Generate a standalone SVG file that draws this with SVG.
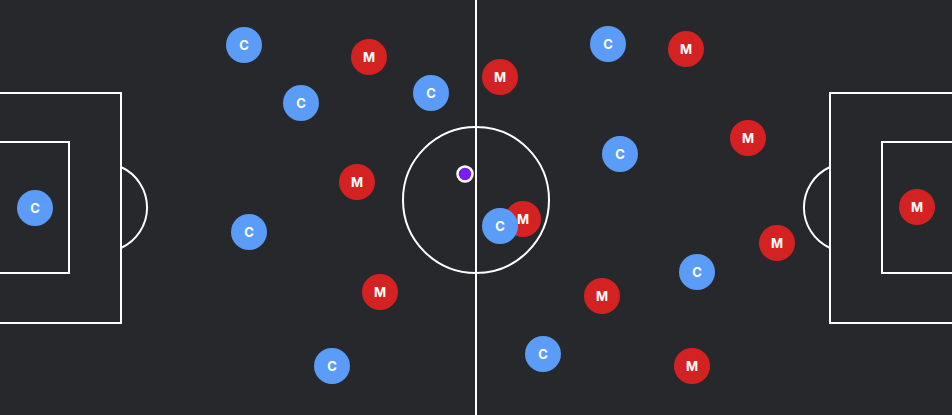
<svg xmlns="http://www.w3.org/2000/svg" width="952" height="415" viewBox="0 0 952 415">
<style>
.line{fill:none;stroke:#ffffff;stroke-width:2}
.c{fill:#5a9cf8}
.m{fill:#d42222}
.t{fill:#ffffff;font-family:"Inter","Open Sans",sans-serif;font-weight:700;font-size:13px;text-anchor:middle;dominant-baseline:central}
</style>
<rect x="0" y="0" width="952" height="415" fill="#27282c"/>
<g id="pitch">
<line class="line" x1="476" y1="0" x2="476" y2="415"/>
<circle class="line" cx="476" cy="200" r="73"/>
<path class="line" d="M-2 93 H121 V323 H-2"/>
<path class="line" d="M-2 142 H69 V273 H-2"/>
<path class="line" d="M121 167 A44.5 44.5 0 0 1 121 248"/>
<path class="line" d="M954 93 H830 V323 H954"/>
<path class="line" d="M954 142 H882 V273 H954"/>
<path class="line" d="M830 167 A44.5 44.5 0 0 0 830 248"/>
</g>
<g id="connectors"></g>
<g id="m1"><circle class="m" cx="369" cy="57" r="18"/><text class="t" x="369" y="57">M</text></g>
<g id="m2"><circle class="m" cx="500" cy="77" r="18"/><text class="t" x="500" y="77">M</text></g>
<g id="m3"><circle class="m" cx="357" cy="182" r="18"/><text class="t" x="357" y="182">M</text></g>
<g id="m4"><circle class="m" cx="380" cy="292" r="18"/><text class="t" x="380" y="292">M</text></g>
<g id="m5"><circle class="m" cx="686" cy="49" r="18"/><text class="t" x="686" y="49">M</text></g>
<g id="m6"><circle class="m" cx="748" cy="138" r="18"/><text class="t" x="748" y="138">M</text></g>
<g id="m7"><circle class="m" cx="523" cy="219" r="18"/><text class="t" x="523" y="219">M</text></g>
<g id="m8"><circle class="m" cx="777" cy="243" r="18"/><text class="t" x="777" y="243">M</text></g>
<g id="m9"><circle class="m" cx="602" cy="296" r="18"/><text class="t" x="602" y="296">M</text></g>
<g id="m10"><circle class="m" cx="692" cy="366" r="18"/><text class="t" x="692" y="366">M</text></g>
<g id="m11"><circle class="m" cx="917" cy="207" r="18"/><text class="t" x="917" y="207">M</text></g>
<g id="c1"><circle class="c" cx="244" cy="45" r="18"/><text class="t" x="244" y="45">C</text></g>
<g id="c2"><circle class="c" cx="301" cy="103" r="18"/><text class="t" x="301" y="103">C</text></g>
<g id="c3"><circle class="c" cx="431" cy="93" r="18"/><text class="t" x="431" y="93">C</text></g>
<g id="c4"><circle class="c" cx="35" cy="208" r="18"/><text class="t" x="35" y="208">C</text></g>
<g id="c5"><circle class="c" cx="249" cy="232" r="18"/><text class="t" x="249" y="232">C</text></g>
<g id="c6"><circle class="c" cx="332" cy="366" r="18"/><text class="t" x="332" y="366">C</text></g>
<g id="c7"><circle class="c" cx="608" cy="44" r="18"/><text class="t" x="608" y="44">C</text></g>
<g id="c8"><circle class="c" cx="620" cy="154" r="18"/><text class="t" x="620" y="154">C</text></g>
<g id="c9"><circle class="c" cx="500" cy="226" r="18"/><text class="t" x="500" y="226">C</text></g>
<g id="c10"><circle class="c" cx="697" cy="272" r="18"/><text class="t" x="697" y="272">C</text></g>
<g id="c11"><circle class="c" cx="543" cy="354" r="18"/><text class="t" x="543" y="354">C</text></g>
<g id="ball"><circle cx="465" cy="174" r="7.5" fill="#7b1cf5" stroke="#ffffff" stroke-width="2.5"/></g>
</svg>
